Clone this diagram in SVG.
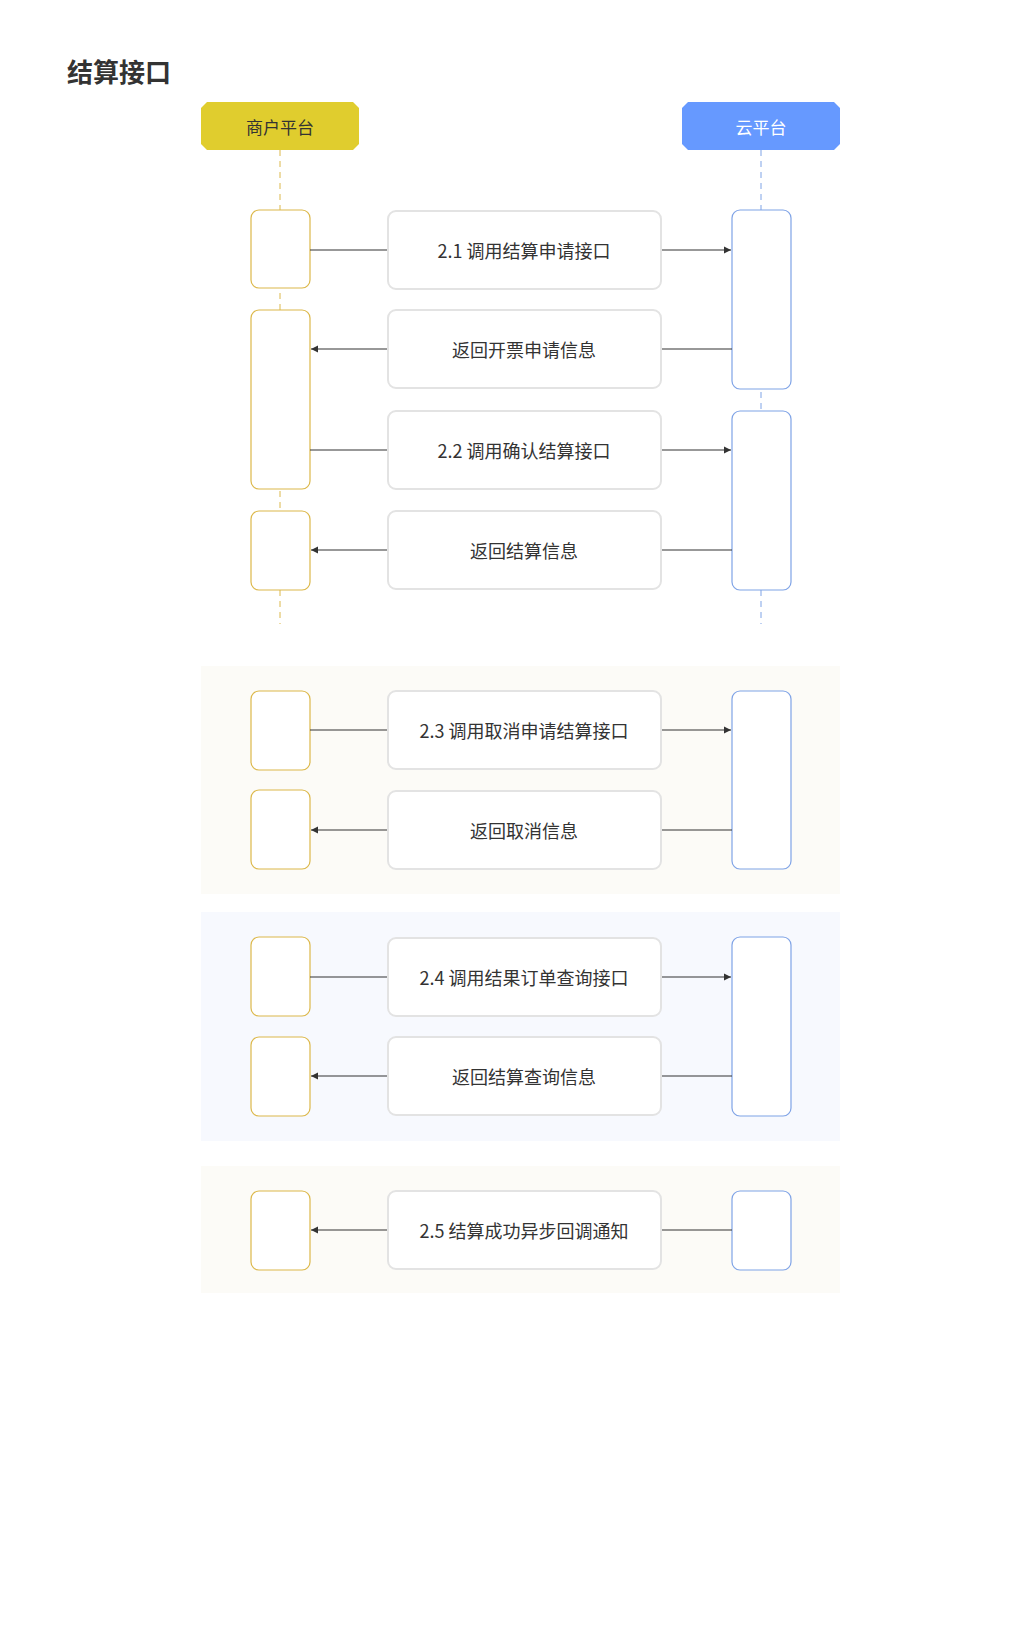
<svg xmlns="http://www.w3.org/2000/svg" width="1025" height="1626" viewBox="0 0 1025 1626">
<defs>
<style>
text{font-family:"Noto Sans CJK SC","Liberation Sans",sans-serif}
.msg rect{fill:#fff;stroke:#e3e3e3;stroke-width:2}
.msg text{font-size:18px;fill:#333;text-anchor:middle;dominant-baseline:central}
.la{fill:#fff;stroke:#dcb84a;stroke-width:1.2}
.ra{fill:#fff;stroke:#7fa3e6;stroke-width:1.2}
.c line{stroke:#333;stroke-width:1.2}
.hd{font-size:17px;text-anchor:middle;dominant-baseline:central}
</style>
<marker id="ah" viewBox="0 0 10 10" refX="10" refY="5" markerWidth="7" markerHeight="9" orient="auto-start-reverse" markerUnits="userSpaceOnUse"><path d="M0,0L10,5L0,10z" fill="#333"/></marker>
</defs>
<rect width="1025" height="1626" fill="#fff"/>
<text x="67" y="82" font-size="26" font-weight="bold" fill="#333">结算接口</text>
<rect x="201" y="666" width="639" height="228" fill="#fcfbf7"/>
<rect x="201" y="912" width="639" height="229" fill="#f7f9fe"/>
<rect x="201" y="1166" width="639" height="127" fill="#fcfbf7"/>
<g id="lifelines">
<line x1="280" y1="150" x2="280" y2="624" stroke="#dcb84a" stroke-dasharray="6,5"/>
<line x1="761" y1="150" x2="761" y2="624" stroke="#7fa3e6" stroke-dasharray="6,5"/>
</g>
<g id="h1"><path d="M207,102H353L359,108V144L353,150H207L201,144V108Z" fill="#e0cd2e"/><text class="hd" x="280" y="126" fill="#333">商户平台</text></g>
<g id="h2"><path d="M688,102H834L840,108V144L834,150H688L682,144V108Z" fill="#6699ff"/><text class="hd" x="761" y="126" fill="#fff">云平台</text></g>
<g id="acts">
<rect class="la" x="251" y="210" width="59" height="78" rx="8"/>
<rect class="la" x="251" y="310" width="59" height="179" rx="8"/>
<rect class="la" x="251" y="511" width="59" height="79" rx="8"/>
<rect class="ra" x="732" y="210" width="59" height="179" rx="8"/>
<rect class="ra" x="732" y="411" width="59" height="179" rx="8"/>
<rect class="la" x="251" y="691" width="59" height="79" rx="8"/>
<rect class="la" x="251" y="790" width="59" height="79" rx="8"/>
<rect class="ra" x="732" y="691" width="59" height="178" rx="8"/>
<rect class="la" x="251" y="937" width="59" height="79" rx="8"/>
<rect class="la" x="251" y="1037" width="59" height="79" rx="8"/>
<rect class="ra" x="732" y="937" width="59" height="179" rx="8"/>
<rect class="la" x="251" y="1191" width="59" height="79" rx="8"/>
<rect class="ra" x="732" y="1191" width="59" height="79" rx="8"/>
</g>
<g id="connectors" class="c">
<line x1="310" y1="250" x2="388" y2="250"/><line x1="661" y1="250" x2="731" y2="250" marker-end="url(#ah)"/>
<line x1="388" y1="349" x2="311" y2="349" marker-end="url(#ah)"/><line x1="661" y1="349" x2="732" y2="349"/>
<line x1="310" y1="450" x2="388" y2="450"/><line x1="661" y1="450" x2="731" y2="450" marker-end="url(#ah)"/>
<line x1="388" y1="550" x2="311" y2="550" marker-end="url(#ah)"/><line x1="661" y1="550" x2="732" y2="550"/>
<line x1="310" y1="730" x2="388" y2="730"/><line x1="661" y1="730" x2="731" y2="730" marker-end="url(#ah)"/>
<line x1="388" y1="830" x2="311" y2="830" marker-end="url(#ah)"/><line x1="661" y1="830" x2="732" y2="830"/>
<line x1="310" y1="977" x2="388" y2="977"/><line x1="661" y1="977" x2="731" y2="977" marker-end="url(#ah)"/>
<line x1="388" y1="1076" x2="311" y2="1076" marker-end="url(#ah)"/><line x1="661" y1="1076" x2="732" y2="1076"/>
<line x1="388" y1="1230" x2="311" y2="1230" marker-end="url(#ah)"/><line x1="661" y1="1230" x2="732" y2="1230"/>
</g>
<g id="m1" class="msg"><rect x="388" y="211" width="273" height="78" rx="8"/><text x="524" y="250">2.1 调用结算申请接口</text></g>
<g id="m2" class="msg"><rect x="388" y="310" width="273" height="78" rx="8"/><text x="524" y="349">返回开票申请信息</text></g>
<g id="m3" class="msg"><rect x="388" y="411" width="273" height="78" rx="8"/><text x="524" y="450">2.2 调用确认结算接口</text></g>
<g id="m4" class="msg"><rect x="388" y="511" width="273" height="78" rx="8"/><text x="524" y="550">返回结算信息</text></g>
<g id="m5" class="msg"><rect x="388" y="691" width="273" height="78" rx="8"/><text x="524" y="730">2.3 调用取消申请结算接口</text></g>
<g id="m6" class="msg"><rect x="388" y="791" width="273" height="78" rx="8"/><text x="524" y="830">返回取消信息</text></g>
<g id="m7" class="msg"><rect x="388" y="938" width="273" height="78" rx="8"/><text x="524" y="977">2.4 调用结果订单查询接口</text></g>
<g id="m8" class="msg"><rect x="388" y="1037" width="273" height="78" rx="8"/><text x="524" y="1076">返回结算查询信息</text></g>
<g id="m9" class="msg"><rect x="388" y="1191" width="273" height="78" rx="8"/><text x="524" y="1230">2.5 结算成功异步回调通知</text></g>
</svg>
